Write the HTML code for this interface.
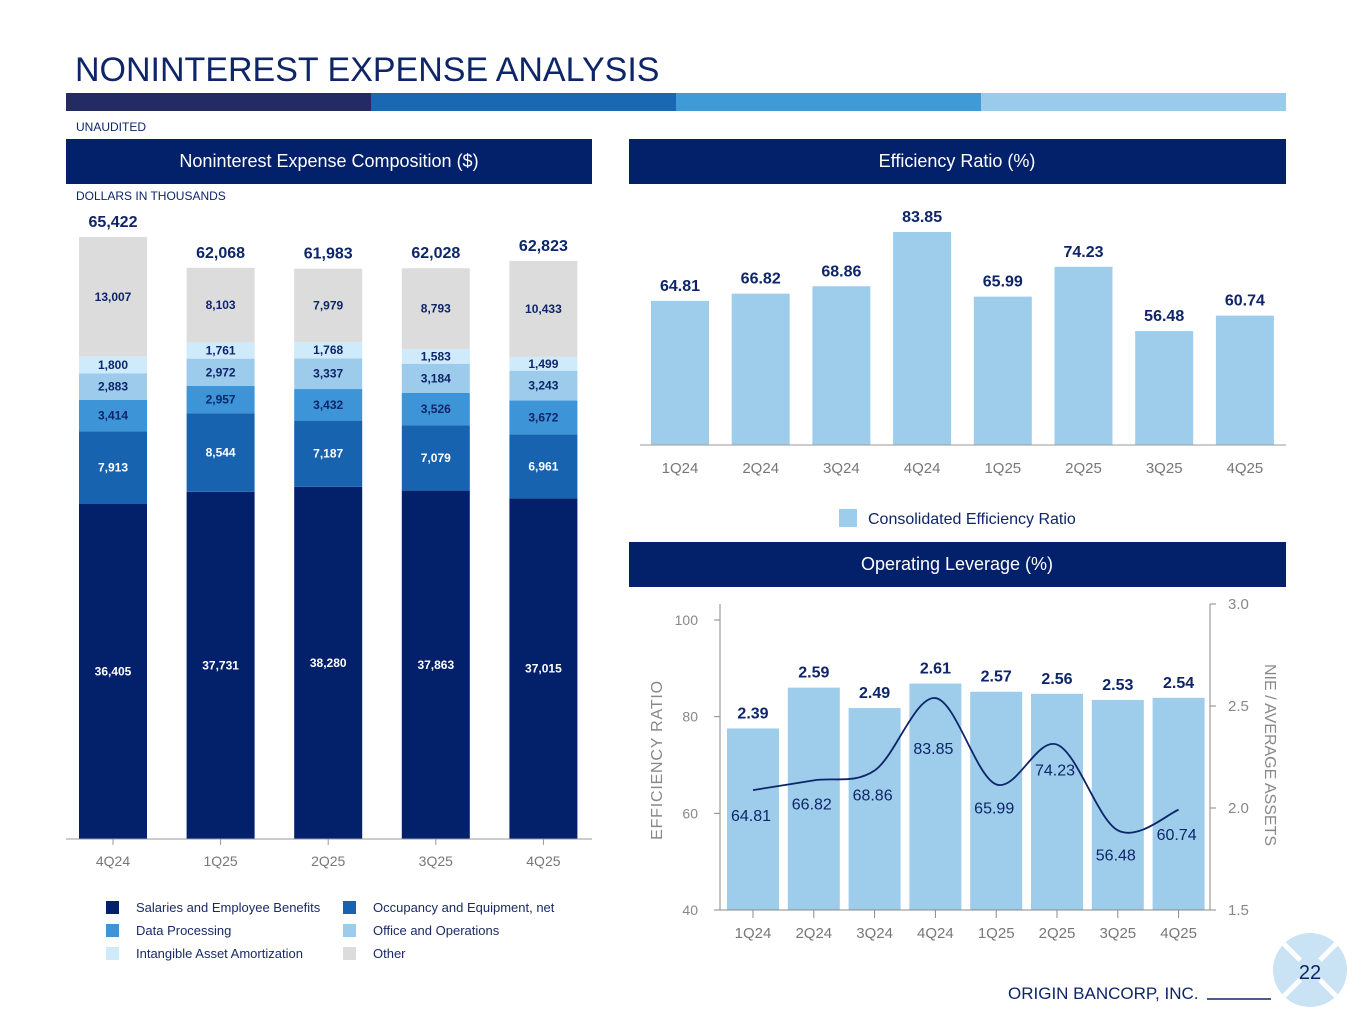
<!DOCTYPE html>
<html><head><meta charset="utf-8"><style>
html,body{margin:0;padding:0;background:#fff;}
svg{display:block;font-family:"Liberation Sans",Arial,sans-serif;}
</style></head><body>
<svg id="s" width="1365" height="1024" viewBox="0 0 1365 1024" xmlns="http://www.w3.org/2000/svg">
<text x="75" y="81" font-size="34" fill="#0e2569">NONINTEREST EXPENSE ANALYSIS</text>
<g>
<rect x="66" y="93" width="305" height="18" fill="#232b62"/>
<rect x="371" y="93" width="305" height="18" fill="#1868b3"/>
<rect x="676" y="93" width="305" height="18" fill="#3f9bd8"/>
<rect x="981" y="93" width="305" height="18" fill="#9acbea"/>
</g>
<text x="76" y="131" font-size="12" fill="#0e2569">UNAUDITED</text>
<rect x="66" y="139" width="526" height="45" fill="#03206a"/>
<text x="329" y="167" font-size="18" fill="#fff" text-anchor="middle">Noninterest Expense Composition ($)</text>
<text x="76" y="200" font-size="12" fill="#0e2569">DOLLARS IN THOUSANDS</text>
<rect x="629" y="139" width="657" height="45" fill="#03206a"/>
<text x="957" y="167" font-size="18" fill="#fff" text-anchor="middle">Efficiency Ratio (%)</text>
<rect x="629" y="542" width="657" height="45" fill="#03206a"/>
<text x="957" y="570" font-size="18" fill="#fff" text-anchor="middle">Operating Leverage (%)</text>
<g id="stack"></g>
<g id="eff"></g>
<g id="lev"></g>
<g>
<circle cx="1310" cy="970" r="37" fill="#c9e2f4"/>
<line x1="1284" y1="944" x2="1336" y2="996" stroke="#fff" stroke-width="5"/>
<line x1="1336" y1="944" x2="1284" y2="996" stroke="#fff" stroke-width="5"/>
<circle cx="1310" cy="970" r="14" fill="#c9e2f4"/>
<text x="1310" y="979" font-size="20" fill="#0e2569" text-anchor="middle">22</text>
</g>
<text x="1008" y="999" font-size="17" fill="#0e2569">ORIGIN BANCORP, INC.</text>
<line x1="1207" y1="999" x2="1271" y2="999" stroke="#0e2569" stroke-width="1.5"/>
</svg>
<script>
const NS="http://www.w3.org/2000/svg";
// ---- Composition data ----
const stackCats=["4Q24","1Q25","2Q25","3Q25","4Q25"];
const salaries=[36405,37731,38280,37863,37015];
const occupancy=[7913,8544,7187,7079,6961];
const dataProc=[3414,2957,3432,3526,3672];
const office=[2883,2972,3337,3184,3243];
const intangible=[1800,1761,1768,1583,1499];
const other=[13007,8103,7979,8793,10433];
const totals=["65,422","62,068","61,983","62,028","62,823"];
const segNames=["Salaries and Employee Benefits","Occupancy and Equipment, net","Data Processing","Office and Operations","Intangible Asset Amortization","Other"];
// ---- Efficiency data ----
const effCats=["1Q24","2Q24","3Q24","4Q24","1Q25","2Q25","3Q25","4Q25"];
const effVals=[64.81,66.82,68.86,83.85,65.99,74.23,56.48,60.74];
// ---- Operating leverage data ----
const nieVals=[2.39,2.59,2.49,2.61,2.57,2.56,2.53,2.54];
const levTicksL=[40,60,80,100];
const levTicksR=[1.5,2.0,2.5,3.0];

function el(p,t,a,txt){const e=document.createElementNS(NS,t);for(const k in a)e.setAttribute(k,a[k]);if(txt!==undefined)e.textContent=txt;p.appendChild(e);return e;}
const fmt=v=>v.toLocaleString("en-US");

// Composition chart
(function(){
 const g=document.getElementById("stack");
 const base=839, k=602/65422, x0=79, step=107.6, bw=68;
 const y=v=>base-v*k;
 const series=[salaries,occupancy,dataProc,office,intangible,other];
 const cols=["#03206a","#1763b0","#3d94d6","#9dcbeb","#cfeafb","#dcdcdc"];
 const tcol=["#fff","#fff","#0e2569","#0e2569","#0e2569","#0e2569"];
 stackCats.forEach((c,i)=>{
  const x=x0+i*step; let cum=0;
  series.forEach((s,j)=>{
   const r=el(g,"rect",{x:x,y:y(cum+s[i]),width:bw,height:s[i]*k,fill:cols[j]});
   
   
   const t=el(g,"text",{x:x+bw/2,y:y(cum+s[i]/2)+4,"font-size":12,"font-weight":"bold",fill:tcol[j],"text-anchor":"middle"},fmt(s[i]));
   
   
   cum+=s[i];
  });
  const tt=el(g,"text",{x:x+bw/2,y:y(cum)-10,"font-size":16,"font-weight":"bold",fill:"#0e2569","text-anchor":"middle"},totals[i]);
  
  
  el(g,"line",{x1:x+bw/2,y1:base,x2:x+bw/2,y2:base+6,stroke:"#999"});
  const xl=el(g,"text",{x:x+bw/2,y:base+27,"font-size":14,fill:"#777","text-anchor":"middle"},c);
  
  
 });
 el(g,"line",{x1:66,y1:base,x2:592,y2:base,stroke:"#999"});
 segNames.forEach((n,j)=>{
  const col=j%2, row=Math.floor(j/2);
  const lx=106+col*237, ly=901+row*23;
  const lg=el(g,"g",{});
  
  
  el(lg,"rect",{x:lx,y:ly,width:13,height:13,fill:cols[j]});
  el(lg,"text",{x:lx+30,y:ly+11,"font-size":13,fill:"#1a2a66"},n);
 });
})();

// Efficiency chart
(function(){
 const g=document.getElementById("eff");
 const base=445, top=232, vmin=25, vmax=83.85, x0=651, step=80.7, bw=58;
 const y=v=>base-(v-vmin)/(vmax-vmin)*(base-top);
 effCats.forEach((c,i)=>{
  const x=x0+i*step;
  const r=el(g,"rect",{x:x,y:y(effVals[i]),width:bw,height:base-y(effVals[i]),fill:"#9dcdeb"});
  
  
  const t=el(g,"text",{x:x+bw/2,y:y(effVals[i])-10,"font-size":16,"font-weight":"bold",fill:"#0e2569","text-anchor":"middle"},effVals[i].toFixed(2));
  
  
  const xl=el(g,"text",{x:x+bw/2,y:base+28,"font-size":15,fill:"#777","text-anchor":"middle"},c);
  
  
 });
 el(g,"line",{x1:640,y1:base,x2:1286,y2:base,stroke:"#999"});
 const lg=el(g,"g",{});
 
 
 el(lg,"rect",{x:839,y:509,width:18,height:18,fill:"#9dcdeb"});
 el(lg,"text",{x:868,y:524,"font-size":16,fill:"#0e2569"},"Consolidated Efficiency Ratio");
})();

// Operating leverage chart
(function(){
 const g=document.getElementById("lev");
 const base=910, x0=727, step=60.8, bw=52, axL=720, axR=1210;
 const yL=v=>base-(v-40)*(290/60);
 const yR=v=>base-(v-1.5)*(306/1.5);
 effCats.forEach((c,i)=>{
  const x=x0+i*step;
  const r=el(g,"rect",{x:x,y:yR(nieVals[i]),width:bw,height:base-yR(nieVals[i]),fill:"#9dcdeb"});
  
  
  const t=el(g,"text",{x:x+bw/2,y:yR(nieVals[i])-10,"font-size":16,"font-weight":"bold",fill:"#0e2569","text-anchor":"middle"},nieVals[i].toFixed(2));
  
  
  el(g,"line",{x1:x+bw/2,y1:base,x2:x+bw/2,y2:base+8,stroke:"#888"});
  const xl=el(g,"text",{x:x+bw/2,y:base+28,"font-size":15,fill:"#777","text-anchor":"middle"},c);
  
  
 });
 const pts=effVals.map((v,i)=>[x0+i*step+bw/2,yL(v)]);
 let d="M"+pts[0][0]+","+pts[0][1];
 for(let i=0;i<pts.length-1;i++){
  const p0=pts[Math.max(0,i-1)],p1=pts[i],p2=pts[i+1],p3=pts[Math.min(pts.length-1,i+2)];
  const c1=[p1[0]+(p2[0]-p0[0])/6,p1[1]+(p2[1]-p0[1])/6];
  const c2=[p2[0]-(p3[0]-p1[0])/6,p2[1]-(p3[1]-p1[1])/6];
  d+=" C"+c1+" "+c2+" "+p2;
 }
 const ln=el(g,"path",{d:d,fill:"none",stroke:"#0e2569","stroke-width":1.8});
 
 
 const off=[31,29,30,56,29,31,30,30];
 effVals.forEach((v,i)=>{
  const t=el(g,"text",{x:pts[i][0]-2,y:pts[i][1]+off[i],"font-size":16,fill:"#0e2569","text-anchor":"middle"},v.toFixed(2));
  
  
 });
 el(g,"line",{x1:axL,y1:604,x2:axL,y2:base,stroke:"#888"});
 el(g,"line",{x1:axR,y1:604,x2:axR,y2:base,stroke:"#888"});
 el(g,"line",{x1:axL-6,y1:base,x2:axR+6,y2:base,stroke:"#888"});
 levTicksL.forEach(v=>{
  el(g,"line",{x1:axL-6,y1:yL(v),x2:axL,y2:yL(v),stroke:"#888"});
  const t=el(g,"text",{x:axL-22,y:yL(v)+5,"font-size":14,fill:"#888","text-anchor":"end"},v);
  
  
 });
 levTicksR.forEach(v=>{
  el(g,"line",{x1:axR,y1:yR(v),x2:axR+6,y2:yR(v),stroke:"#888"});
  const t=el(g,"text",{x:axR+18,y:yR(v)+5,"font-size":15,fill:"#888"},v.toFixed(1));
  
  
 });
 const yt=el(g,"text",{transform:"translate(662,760) rotate(-90)","font-size":16,fill:"#888","text-anchor":"middle","letter-spacing":"0.8"},"EFFICIENCY RATIO");
 
 
 const yt2=el(g,"text",{transform:"translate(1265,755) rotate(90)","font-size":16,fill:"#888","text-anchor":"middle"},"NIE / AVERAGE ASSETS");
 
 
})();
</script>
</body></html>
